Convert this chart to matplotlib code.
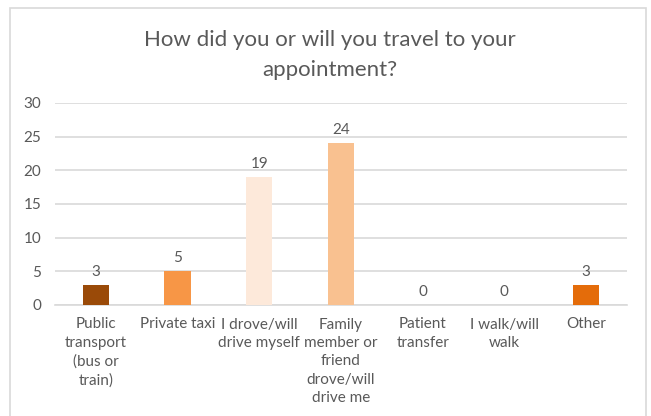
import matplotlib.pyplot as plt
from matplotlib.patches import Rectangle

categories = [
    "Public\ntransport\n(bus or\ntrain)",
    "Private taxi",
    "I drove/will\ndrive myself",
    "Family\nmember or\nfriend\ndrove/will\ndrive me",
    "Patient\ntransfer",
    "I walk/will\nwalk",
    "Other",
]
counts = [3, 5, 19, 24, 0, 0, 3]
bar_colors = ["#9A4A08", "#F79646", "#FDE9DA", "#F9C190", "#F79646", "#F79646", "#E46C0A"]
y_ticks = [0, 5, 10, 15, 20, 25, 30]
title = "How did you or will you travel to your\nappointment?"

plt.rcParams["font.family"] = ["Lato", "DejaVu Sans"]
text_color = "#595959"
grid_color = "#D9D9D9"

fig = plt.figure(figsize=(6.51, 4.16), dpi=100)
fig.patches.append(Rectangle((10 / 651, -0.1), 636 / 651, 1.1 - 8 / 416,
                             transform=fig.transFigure, fill=False,
                             edgecolor=grid_color, linewidth=1.2))

ax = fig.add_axes([55 / 651, 1 - 305 / 416, 572 / 651, 202 / 416])
x = list(range(len(categories)))
bars = ax.bar(x, counts, width=0.32, color=bar_colors, zorder=3)
for xi, v in zip(x, counts):
    ax.text(xi, v + 0.9, str(v), ha="center", va="bottom", fontsize=11, color=text_color)

ax.set_xlim(-0.5, len(categories) - 0.5)
ax.set_ylim(0, 30)
ax.set_yticks(y_ticks)
ax.yaxis.grid(True, color=grid_color, linewidth=1.2, zorder=0)
ax.set_axisbelow(True)
for s in ["top", "right", "left"]:
    ax.spines[s].set_visible(False)
ax.spines["bottom"].set_color(grid_color)
ax.spines["bottom"].set_linewidth(1.2)
ax.tick_params(axis="both", length=0, colors=text_color, labelsize=11)
ax.tick_params(axis="y", pad=10)
ax.set_xticks(x)
ax.set_xticklabels(categories, linespacing=1.4, va="top")
ax.tick_params(axis="x", pad=9)

fig.text(330 / 651, 1 - 55 / 416, title, ha="center", va="center",
         fontsize=16, color=text_color, linespacing=1.6)

fig.savefig("out.png", dpi=100)
